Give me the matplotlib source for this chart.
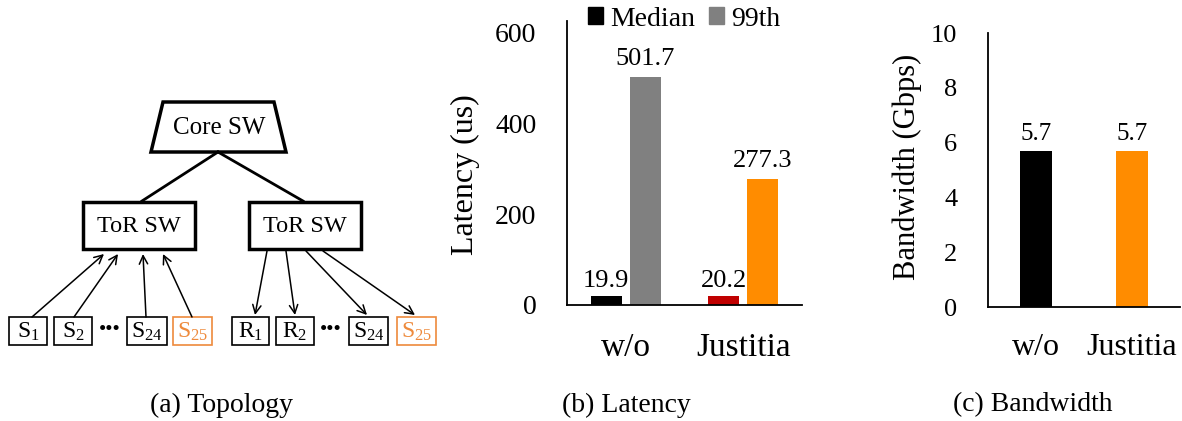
import matplotlib
matplotlib.use('Agg')
import matplotlib.pyplot as plt
from matplotlib.patches import Polygon, Rectangle
import numpy as np

plt.rcParams['font.family'] = ['Liberation Serif', 'DejaVu Serif']
plt.rcParams['mathtext.fontset'] = 'custom'
plt.rcParams['mathtext.rm'] = 'Liberation Serif'
plt.rcParams['mathtext.it'] = 'Liberation Serif:italic'

# results
systems = ['w/o', 'Justitia']
lat_median = [19.9, 20.2]
lat_p99 = [501.7, 277.3]
bandwidth = [5.7, 5.7]

# topology hosts
senders = ['S$_{1}$', 'S$_{2}$', 'S$_{24}$', 'S$_{25}$']
receivers = ['R$_{1}$', 'R$_{2}$', 'S$_{24}$', 'S$_{25}$']

ORANGE = '#FF8C00'
HOST_ORANGE = '#EE8A3C'

W, H = 1182, 421
fig = plt.figure(figsize=(W / 100, H / 100), dpi=100)


def px_axes(l, t, r, b):
    return fig.add_axes([l / W, 1 - b / H, (r - l) / W, (b - t) / H])


# ---- (a) topology, drawn in pixel coordinates ----
ax0 = fig.add_axes([0, 0, 1, 1])
ax0.set_xlim(0, W)
ax0.set_ylim(H, 0)
ax0.axis('off')

ax0.add_patch(Polygon([(163, 102), (274, 102), (286, 152), (151, 152)],
                      closed=True, fc='white', ec='black', lw=2.5))
ax0.text(219, 128, 'Core SW', ha='center', va='center', fontsize=18)
ax0.plot([218, 142], [152, 201], color='black', lw=2)
ax0.plot([218, 303], [152, 201], color='black', lw=2)

for cx in (139, 305):
    ax0.add_patch(Rectangle((cx - 56, 202), 112, 47, fc='white', ec='black', lw=2.5))
    ax0.text(cx, 226, 'ToR SW', ha='center', va='center', fontsize=17.5)

left_x = [(9, 47), (54, 92), (127, 167), (173, 212)]
right_x = [(232, 269), (276, 314), (349, 388), (397, 436)]
for names, xs in ((senders, left_x), (receivers, right_x)):
    for i, (name, (x0, x1)) in enumerate(zip(names, xs)):
        col = HOST_ORANGE if i == 3 else 'black'
        ax0.add_patch(Rectangle((x0, 317), x1 - x0, 28, fc='white', ec=col, lw=1.2))
        ax0.text((x0 + x1) / 2, 332, name, ha='center', va='center',
                 fontsize=17, color=col)

ax0.text(110, 331, '•••', ha='center', va='center', fontsize=15)
ax0.text(331, 331, '•••', ha='center', va='center', fontsize=15)

up = [((32, 317), (104, 254)), ((74, 317), (118, 254)),
      ((146, 317), (143, 254)), ((192, 317), (163, 254))]
down = [((267, 251), (255, 315)), ((286, 251), (295, 315)),
        ((306, 251), (367, 315)), ((323, 251), (415, 315))]
for start, end in up + down:
    ax0.annotate('', xy=end, xytext=start,
                 arrowprops=dict(arrowstyle='->', color='black', lw=1.1,
                                 mutation_scale=15, shrinkA=0, shrinkB=0))


def style(ax):
    for s in ('top', 'right'):
        ax.spines[s].set_visible(False)
    for s in ('left', 'bottom'):
        ax.spines[s].set_linewidth(1.3)
    ax.tick_params(length=0)


# ---- (b) latency ----
ax1 = px_axes(567, 21, 802, 305)
x = np.arange(len(systems))
bw, off = 0.264, 0.166
b1 = ax1.bar(x - off, lat_median, bw, color=['black', '#C00000'])
b2 = ax1.bar(x + off, lat_p99, bw, color=['#808080', ORANGE])
ax1.bar_label(b1, fmt='%.1f', padding=3, fontsize=19)
ax1.bar_label(b2, fmt='%.1f', padding=5, fontsize=19)
ax1.set_xlim(-0.5, 1.5)
ax1.set_ylim(0, 626)
ax1.set_yticks([0, 200, 400, 600])
ax1.set_xticks(x, systems)
style(ax1)
ax1.tick_params(axis='y', labelsize=20, pad=22)
ax1.tick_params(axis='x', labelsize=24, pad=20)
ax1.set_ylabel('Latency (us)', fontsize=23)
ax1.yaxis.set_label_coords(-0.37, 0.46)
h1 = Rectangle((0, 0), 1, 1, color='black')
h2 = Rectangle((0, 0), 1, 1, color='#808080')
ax1.legend([h1, h2], ['Median', '99th'], loc='center', ncol=2,
           bbox_to_anchor=(684 / W, 1 - 19 / H), bbox_transform=fig.transFigure,
           frameon=False, fontsize=20, handlelength=0.55, handleheight=0.55,
           handletextpad=0.25, columnspacing=0.5, borderpad=0, borderaxespad=0)

# ---- (c) bandwidth ----
ax2 = px_axes(988, 33, 1180, 307)
b3 = ax2.bar(x, bandwidth, 0.333, color=['black', ORANGE])
ax2.bar_label(b3, fmt='%.1f', padding=4, fontsize=18)
ax2.set_xlim(-0.5, 1.5)
ax2.set_ylim(0, 10)
ax2.set_yticks(np.arange(0, 11, 2))
ax2.set_xticks(x, systems)
style(ax2)
ax2.tick_params(axis='y', labelsize=19, pad=22)
ax2.tick_params(axis='x', labelsize=23, pad=19)
ax2.set_ylabel('Bandwidth (Gbps)', fontsize=22)
ax2.yaxis.set_label_coords(-0.344, 0.51)

# captions
for cx, cap in ((221, '(a) Topology'), (626, '(b) Latency'), (1033, '(c) Bandwidth')):
    fig.text(cx / W, 1 - 405 / H, cap, ha='center', va='center', fontsize=20)

fig.savefig('out.png', dpi=100)
